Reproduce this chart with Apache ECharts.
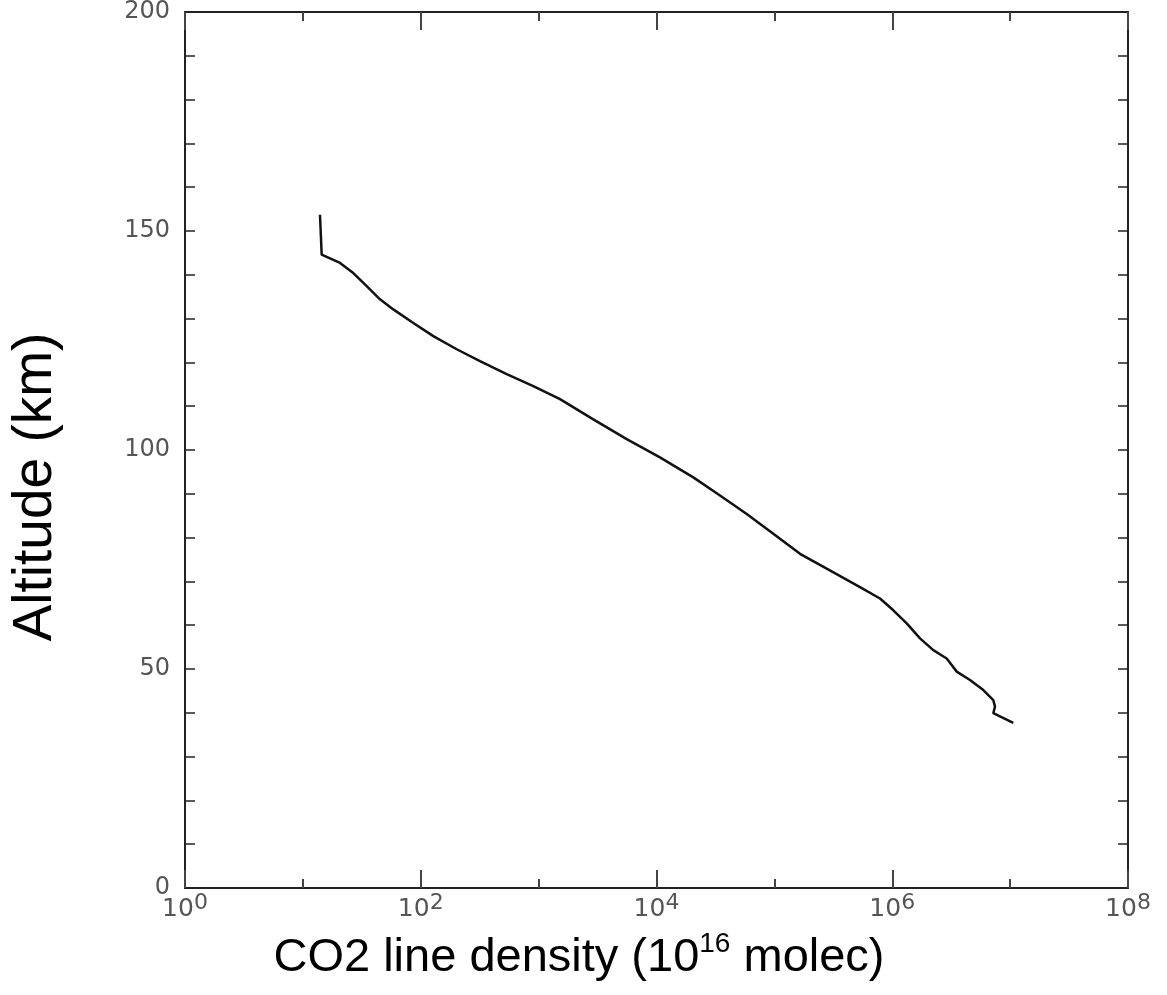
<!DOCTYPE html>
<html><head><meta charset="utf-8">
<script src="https://cdn.jsdelivr.net/npm/echarts@6/dist/echarts.min.js"></script>
<style>html,body{margin:0;padding:0;background:#fff}#c{width:1167px;height:995px}</style>
</head><body><div id="c"></div>
<script>
// CO2 line density (10^16 molec) vs altitude (km)
const density = [13.97, 14.44, 20.65, 26.78, 34.8, 45.1, 58.5, 86.5, 127.8, 202, 318, 536, 901, 1518, 2910, 5587, 10700, 20530, 34570, 58270, 97950, 165000, 277900, 532500, 787400, 1021000, 1327000, 1720000, 2230000, 2897000, 3523000, 4566000, 5922000, 7200000, 7440000, 7200000, 10640000];
const altitude = [153.7, 144.6, 142.7, 140.4, 137.4, 134.4, 132.1, 129.0, 126.0, 123.0, 120.3, 117.3, 114.6, 111.6, 107.0, 102.5, 98.3, 93.75, 89.6, 85.4, 80.9, 76.3, 72.9, 68.7, 66.1, 63.4, 60.4, 57.0, 54.3, 52.4, 49.4, 47.5, 45.2, 42.9, 41.4, 39.9, 37.7];
const yLabelValues = [0, 50, 100, 150, 200];
const xLabelExponents = [0, 2, 4, 6, 8];
const xTitle = ['CO2 line density (10', '16', ' molec)'];
const yTitle = 'Altitude (km)';

const chart = echarts.init(document.getElementById('c'));
const axisColor = '#222';
const labelColor = '#555';
const expAxis = (pos, interval, len, showLine, showLabel) => ({
  type: 'value', position: pos, min: 0, max: 8, interval: interval,
  axisLine: {show: showLine, onZero: false, lineStyle: {color: axisColor, width: 2}},
  axisTick: {show: true, inside: true, length: len, lineStyle: {color: '#444', width: 2}},
  splitLine: {show: false},
  axisLabel: showLabel ? {
    show: true, margin: 4,
    formatter: v => xLabelExponents.includes(v) ? '{b|10}{s|' + v + '}' : '',
    rich: {
      b: {fontSize: 25, fontFamily: 'DejaVu Sans', color: labelColor, lineHeight: 30, verticalAlign: 'bottom'},
      s: {fontSize: 22, fontFamily: 'DejaVu Sans', color: labelColor, lineHeight: 30, verticalAlign: 'top', padding: [0, 0, 10, 0]}
    }
  } : {show: false}
});
const altAxis = (pos, showLabel) => ({
  type: 'value', position: pos, min: 0, max: 200, interval: 10,
  axisLine: {show: true, onZero: false, lineStyle: {color: axisColor, width: 2}},
  axisTick: {show: true, inside: true, length: 10, lineStyle: {color: '#222', width: 1.5}},
  splitLine: {show: false},
  axisLabel: showLabel ? {
    show: true, margin: 15, fontSize: 24, fontFamily: 'DejaVu Sans', color: labelColor,
    formatter: v => yLabelValues.includes(v) ? String(v) : ''
  } : {show: false}
});

chart.setOption({
  animation: false,
  backgroundColor: '#fff',
  grid: {left: 185, right: 39, top: 10, bottom: 107, containLabel: false},
  xAxis: [
    {type: 'log', logBase: 10, min: 1, max: 1e8, position: 'bottom', show: false},
    expAxis('bottom', 2, 18, true, true),
    expAxis('bottom', 1, 9, false, false),
    expAxis('top', 2, 18, true, false),
    expAxis('top', 1, 9, false, false)
  ],
  yAxis: [altAxis('left', true), altAxis('right', false)],
  graphic: [
    {type: 'text', x: 36, y: 487, rotation: Math.PI / 2,
     style: {text: yTitle, font: '55px "Liberation Sans"', fill: '#000', align: 'center', verticalAlign: 'middle'}},
    {type: 'text', x: 579, y: 956,
     style: {text: '{a|' + xTitle[0] + '}{s|' + xTitle[1] + '}{a|' + xTitle[2] + '}',
       align: 'center', verticalAlign: 'middle',
       rich: {
         a: {fontSize: 47, fontFamily: 'Liberation Sans', fill: '#000', lineHeight: 52, verticalAlign: 'bottom'},
         s: {fontSize: 28, fontFamily: 'Liberation Sans', fill: '#000', lineHeight: 52, verticalAlign: 'top'}
       }}}
  ],
  series: [{
    type: 'line', xAxisIndex: 0, yAxisIndex: 0,
    data: density.map((d, i) => [d, altitude[i]]),
    showSymbol: false, symbol: 'none',
    lineStyle: {color: '#111', width: 2.5}
  }]
});
</script></body></html>
